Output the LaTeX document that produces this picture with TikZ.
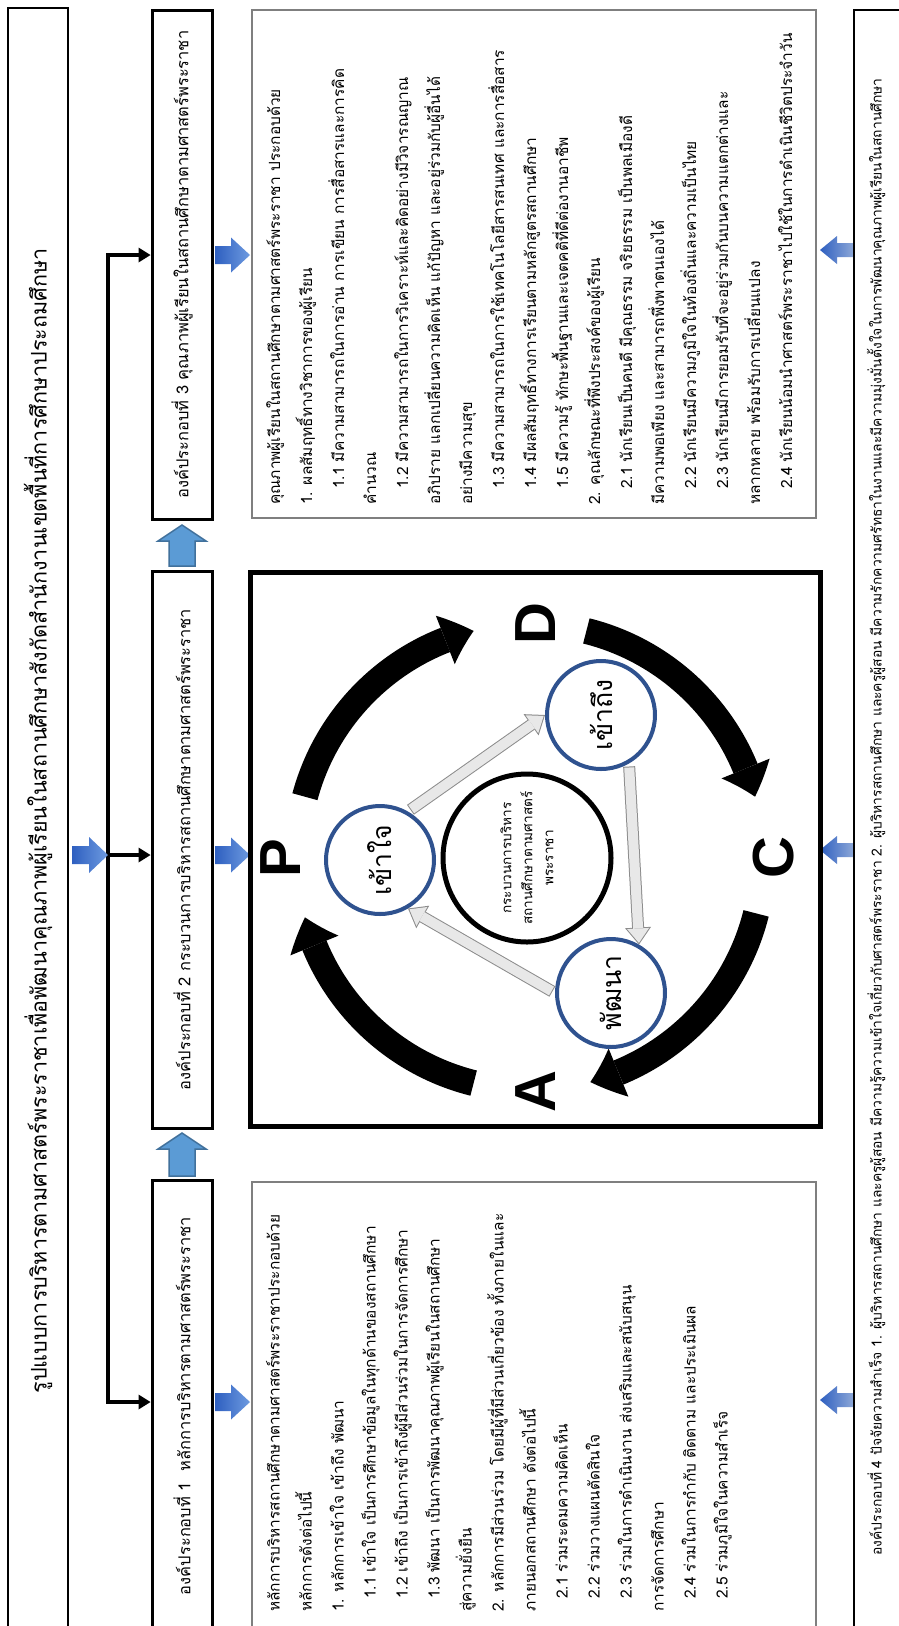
\documentclass[tikz,border=0pt]{standalone}
\usepackage{fontspec}
\setmainfont{Loma}[Script=Thai]
\newfontfamily\latinbold{Liberation Sans}
\usetikzlibrary{arrows.meta,bending,calc}
\definecolor{ringblue}{HTML}{2F528F}
\definecolor{upfill}{HTML}{5B9BD5}
\definecolor{upline}{HTML}{41719C}
\definecolor{bluedark}{HTML}{2E5FC0}
\definecolor{bluelight}{HTML}{6E9BE0}
\definecolor{bluegray}{HTML}{8FA9D8}
\definecolor{panelgray}{HTML}{7F7F7F}
\definecolor{arrowgray}{HTML}{E8E8E8}
\definecolor{arrowedge}{HTML}{8C8C8C}
\newlength\fitw
\newcommand\measurefit[3]{%
  \settowidth\fitw{\normalfont\fontsize{10}{12}\selectfont #3}%
  \pgfmathsetmacro#1{10*#2/\fitw}}
\AtBeginDocument{%
\measurefit\titlesz{1145}{รูปแบบการบริหารตามศาสตร์พระราชาเพื่อพัฒนาคุณภาพผู้เรียนในสถานศึกษาสังกัดสำนักงานเขตพื้นที่การศึกษาประถมศึกษา}%
\measurefit\labelsz{378}{องค์ประกอบที่ 1 \ หลักการบริหารตามศาสตร์พระราชา}%
\measurefit\panelsz{397}{หลักการบริหารสถานศึกษาตามศาสตร์พระราชาประกอบด้วย}%
\measurefit\bottomsz{1477}{องค์ประกอบที่ 4 ปัจจัยความสำเร็จ 1. ผู้บริหารสถานศึกษา และครูผู้สอน มีความรู้ความเข้าใจเกี่ยวกับศาสตร์พระราชา 2. ผู้บริหารสถานศึกษา และครูผู้สอน มีความรักความศรัทธาในงานและมีความมุ่งมั่นตั้งใจในการพัฒนาคุณภาพผู้เรียนในสถานศึกษา}%
\measurefit\coresz{133}{สถานศึกษาตามศาสตร์}%
\measurefit\ringsz{71}{เข้าใจ}%
}
% horizontal block arrow: tail x, tip x, y, style, shaft half width, head half width, head length
\newcommand\hblock[7]{%
  \pgfmathsetmacro\hbneck{#2-ifthenelse(#2>#1,#7,-#7)}%
  \path[#4] (#1,#3-#5) -- (\hbneck,#3-#5) -- (\hbneck,#3-#6) -- (#2,#3)
    -- (\hbneck,#3+#6) -- (\hbneck,#3+#5) -- (#1,#3+#5) -- cycle;}
\newcommand\vblock[4]{%
  \pgfmathsetmacro\vbneck{#2+16}%
  \path[#4] (#3-13,#1) -- (#3-13,\vbneck) -- (#3-24,\vbneck) -- (#3,#2)
    -- (#3+24,\vbneck) -- (#3+13,\vbneck) -- (#3+13,#1) -- cycle;}
\tikzset{blacktip/.tip={Triangle[length=12pt,width=15pt,line width=0pt]}}
\begin{document}
\begin{tikzpicture}[x=1pt,y=-1pt,
  titlebox/.style={draw=black, line width=1.2pt, rotate=90, inner sep=0pt,
    minimum height=60pt, font=\fontsize{\titlesz}{30}\selectfont},
  compbox/.style={draw=black, line width=3pt, rotate=90, inner sep=0pt,
    minimum height=60pt, font=\fontsize{\labelsz}{20}\selectfont},
  panel/.style={draw=panelgray, line width=1.2pt, inner sep=0pt, outer sep=0pt, anchor=north west},
  framebox/.style={draw=black, line width=5pt, inner sep=0pt, outer sep=0pt, anchor=north west},
  textblock/.style={rotate=90, anchor=north west, align=left, inner sep=0pt,
    font=\fontsize{\panelsz}{32}\selectfont},
  spine/.style={line width=3.5pt},
  rblue/.style={left color=bluedark, right color=bluelight},
  lblue/.style={left color=bluedark, right color=bluegray},
  upblue/.style={fill=upfill, draw=upline, line width=1.5pt},
  ring/.style={circle, draw=ringblue, line width=4pt, minimum size=108pt, inner sep=0pt, fill=white},
  ringtext/.style={rotate=90, inner sep=0pt, font=\fontsize{\ringsz}{30}\selectfont},
  core/.style={circle, draw=black, line width=5pt, minimum size=168pt, inner sep=0pt},
  coretext/.style={rotate=90, align=center, inner sep=0pt, font=\fontsize{\coresz}{21}\selectfont},
  pdca/.style={rotate=90, inner sep=0pt, font=\latinbold\bfseries\fontsize{58}{58}\selectfont},
  cyclearrow/.style={line width=26pt, draw=black, -{Triangle[length=30pt,width=52pt,line width=0pt,bend]}},
  grayouter/.style={line width=12pt, draw=arrowedge, -{Triangle[length=17pt,width=26pt,line width=0pt]}, shorten <=3pt},
  grayinner/.style={line width=10pt, draw=arrowgray, -{Triangle[length=14.35pt,width=21.9pt,line width=0pt]}, shorten <=4pt, shorten >=1.65pt},
]
\useasboundingbox (0,0) rectangle (898,1626);
\fill[white] (0,0) rectangle (898,1626);

% title
\node[titlebox, minimum width=1626pt] (title) at (38,821)
  {รูปแบบการบริหารตามศาสตร์พระราชาเพื่อพัฒนาคุณภาพผู้เรียนในสถานศึกษาสังกัดสำนักงานเขตพื้นที่การศึกษาประถมศึกษา};

% component boxes
\node[compbox, minimum width=509pt] (b3) at (182,264.5)
  {องค์ประกอบที่ 3 คุณภาพผู้เรียนในสถานศึกษาตามศาสตร์พระราชา};
\node[compbox, minimum width=557pt] (b2) at (182,849.5)
  {องค์ประกอบที่ 2 กระบวนการบริหารสถานศึกษาตามศาสตร์พระราชา};
\node[compbox, minimum width=452pt] (b1) at (182,1406)
  {องค์ประกอบที่ 1 \ หลักการบริหารตามศาสตร์พระราชา};

% spine connectors
\coordinate (j3) at (108,255);
\coordinate (jm) at (108,855);
\coordinate (j1) at (108,1402);
\draw[spine, {blacktip}-{blacktip}] (j3 -| b3.north) -- (j3) -- (j1) -- (j1 -| b1.north);
\draw[spine, -{blacktip}] (jm) -- (jm -| b2.north);

% blue block arrows
\hblock{72}{108}{855}{rblue}{9}{18}{19}
\hblock{215}{250}{255}{rblue}{9}{17.5}{19}
\hblock{215}{250}{855}{rblue}{9}{17.5}{19}
\hblock{215}{250}{1402}{rblue}{9}{17.5}{19}
\hblock{854}{820}{250}{lblue}{7}{14}{17}
\hblock{854}{820}{850}{lblue}{7}{14}{17}
\hblock{854}{820}{1400}{lblue}{7}{14}{17}
\vblock{1176}{1133}{182}{upblue}
\vblock{566}{525}{182}{upblue}

% panels
\node[panel, minimum width=564pt, minimum height=508pt] (pC) at (252,10) {};
\node[panel, minimum width=564pt, minimum height=452pt] (pA) at (252,1182) {};
\node[framebox, minimum width=570pt, minimum height=554pt] (sq) at (250,572) {};

% bottom box (its right and lower edges run off the page)
\node[draw=black, line width=1.2pt, anchor=north west, minimum width=60pt, minimum height=1630pt,
  inner sep=0pt, outer sep=0pt] (b4) at (854,10) {};
\node[rotate=90, inner sep=0pt, font=\fontsize{\bottomsz}{16}\selectfont] (b4t) at (876,817)
  {องค์ประกอบที่ 4 ปัจจัยความสำเร็จ 1. ผู้บริหารสถานศึกษา และครูผู้สอน มีความรู้ความเข้าใจเกี่ยวกับศาสตร์พระราชา 2. ผู้บริหารสถานศึกษา และครูผู้สอน มีความรักความศรัทธาในงานและมีความมุ่งมั่นตั้งใจในการพัฒนาคุณภาพผู้เรียนในสถานศึกษา};

% text of panel A
\node[textblock] (tA) at (266,1612) {%
หลักการบริหารสถานศึกษาตามศาสตร์พระราชาประกอบด้วย\\
หลักการดังต่อไปนี้\\
1. หลักการเข้าใจ เข้าถึง พัฒนา\\
\hspace*{13pt}1.1 เข้าใจ เป็นการศึกษาข้อมูลในทุกด้านของสถานศึกษา\\
\hspace*{13pt}1.2 เข้าถึง เป็นการเข้าถึงผู้มีส่วนร่วมในการจัดการศึกษา\\
\hspace*{13pt}1.3 พัฒนา เป็นการพัฒนาคุณภาพผู้เรียนในสถานศึกษา\\
สู่ความยั่งยืน\\
2. หลักการมีส่วนร่วม โดยมีผู้ที่มีส่วนเกี่ยวข้อง ทั้งภายในและ\\
ภายนอกสถานศึกษา ดังต่อไปนี้\\
\hspace*{13pt}2.1 ร่วมระดมความคิดเห็น\\
\hspace*{13pt}2.2 ร่วมวางแผนตัดสินใจ\\
\hspace*{13pt}2.3 ร่วมในการดำเนินงาน ส่งเสริมและสนับสนุน\\
การจัดการศึกษา\\
\hspace*{13pt}2.4 ร่วมในการกำกับ ติดตาม และประเมินผล\\
\hspace*{13pt}2.5 ร่วมภูมิใจในความสำเร็จ};

% text of panel C
\node[textblock] (tC) at (266,505) {%
คุณภาพผู้เรียนในสถานศึกษาตามศาสตร์พระราชา ประกอบด้วย\\
1. ผลสัมฤทธิ์ทางวิชาการของผู้เรียน\\
\hspace*{16pt}1.1 มีความสามารถในการอ่าน การเขียน การสื่อสารและการคิด\\
คำนวณ\\
\hspace*{16pt}1.2 มีความสามารถในการวิเคราะห์และคิดอย่างมีวิจารณญาณ\\
อภิปราย แลกเปลี่ยนความคิดเห็น แก้ปัญหา และอยู่ร่วมกับผู้อื่นได้\\
อย่างมีความสุข\\
\hspace*{16pt}1.3 มีความสามารถในการใช้เทคโนโลยีสารสนเทศ และการสื่อสาร\\
\hspace*{16pt}1.4 มีผลสัมฤทธิ์ทางการเรียนตามหลักสูตรสถานศึกษา\\
\hspace*{16pt}1.5 มีความรู้ ทักษะพื้นฐานและเจตคติที่ดีต่องานอาชีพ\\
2. คุณลักษณะที่พึงประสงค์ของผู้เรียน\\
\hspace*{16pt}2.1 นักเรียนเป็นคนดี มีคุณธรรม จริยธรรม เป็นพลเมืองดี\\
มีความพอเพียง และสามารถพึ่งพาตนเองได้\\
\hspace*{16pt}2.2 นักเรียนมีความภูมิใจในท้องถิ่นและความเป็นไทย\\
\hspace*{16pt}2.3 นักเรียนมีการยอมรับที่จะอยู่ร่วมกันบนความแตกต่างและ\\
หลากหลาย พร้อมรับการเปลี่ยนแปลง\\
\hspace*{16pt}2.4 นักเรียนน้อมนำศาสตร์พระราชาไปใช้ในการดำเนินชีวิตประจำวัน};

% PDCA cycle
\coordinate (O) at (530,857);
\draw[cyclearrow] ($(O)+(-165:233)$) arc[start angle=-165, end angle=-104, radius=233];
\draw[cyclearrow] ($(O)+(-76:233)$) arc[start angle=-76, end angle=-15, radius=233];
\draw[cyclearrow] ($(O)+(14:233)$) arc[start angle=14, end angle=75, radius=233];
\draw[cyclearrow] ($(O)+(104:233)$) arc[start angle=104, end angle=165, radius=233];
\node[pdca] (P) at (281,858) {P};
\node[pdca] (D) at (536,624) {D};
\node[pdca] (C) at (774,858) {C};
\node[pdca] (A) at (536,1092) {A};

% inner circles
\node[core] (core) at (527,858) {};
\node[coretext] (coret) at (core) {กระบวนการบริหาร\\สถานศึกษาตามศาสตร์\\พระราชา};
\node[ring] (c1) at (380,860) {};
\node[ring] (c2) at (601,715) {};
\node[ring] (c3) at (611,993) {};
\node[ringtext] (t1) at (c1) {เข้าใจ};
\node[ringtext] (t2) at (c2) {เข้าถึง};
\node[ringtext] (t3) at (c3) {พัฒนา};
\draw[grayouter] (c1.60) -- (c2.180);
\draw[grayinner] (c1.60) -- (c2.180);
\draw[grayouter] (c2.-60) -- (c3.60);
\draw[grayinner] (c2.-60) -- (c3.60);
\draw[grayouter] (c3.180) -- (c1.-60);
\draw[grayinner] (c3.180) -- (c1.-60);
\end{tikzpicture}
\end{document}
